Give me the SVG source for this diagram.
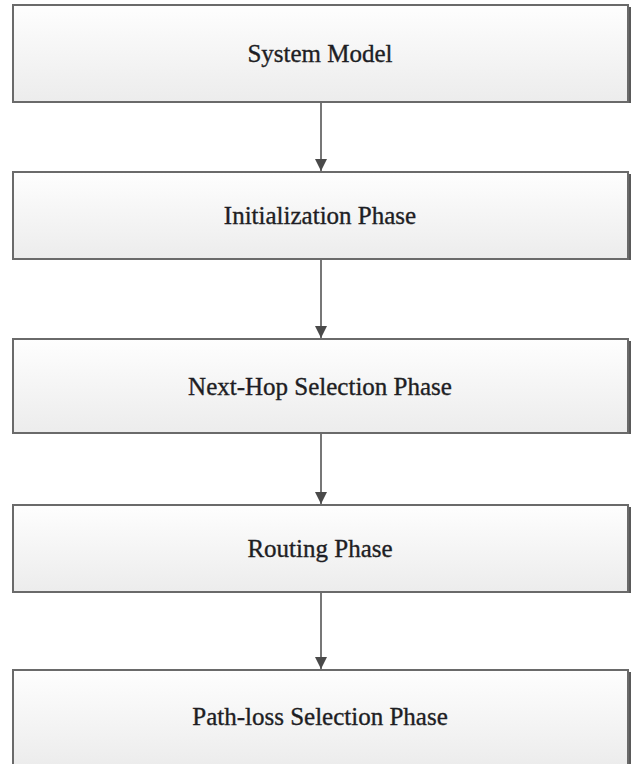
<svg xmlns="http://www.w3.org/2000/svg" width="632" height="764" viewBox="0 0 632 764">
  <defs>
    <linearGradient id="boxFill" x1="0" y1="0" x2="0" y2="1">
      <stop offset="0" stop-color="#fefefe"/>
      <stop offset="1" stop-color="#ececec"/>
    </linearGradient>
    <marker id="arrow" viewBox="0 0 12 12" refX="12" refY="6" markerWidth="12" markerHeight="12" markerUnits="userSpaceOnUse" orient="auto">
      <path d="M0,0 L12,6 L0,12 Z" fill="#4a4a4a"/>
    </marker>
  </defs>
  <style>
    .box { fill: url(#boxFill); stroke: #6a6a6a; stroke-width: 2; }
    .shadow { fill: #5a5a5a; }
    .label { font-family: "Liberation Serif", "Times New Roman", serif; font-size: 25px; fill: #1e1e24; stroke: #1e1e24; stroke-width: 0.35; text-anchor: middle; }
    .conn { stroke: #555555; stroke-width: 1.6; fill: none; }
  </style>
  <rect width="632" height="764" fill="#ffffff"/>

  <g id="connectors">
    <line class="conn" x1="321" y1="103" x2="321" y2="171" marker-end="url(#arrow)"/>
    <line class="conn" x1="321" y1="260" x2="321" y2="338" marker-end="url(#arrow)"/>
    <line class="conn" x1="321" y1="434" x2="321" y2="504" marker-end="url(#arrow)"/>
    <line class="conn" x1="321" y1="593" x2="321" y2="669" marker-end="url(#arrow)"/>
  </g>

  <g id="node-system-model">
    <rect class="shadow" x="15" y="7" width="616" height="96"/>
    <rect class="box" x="13" y="5" width="615" height="97"/>
    <text class="label" x="320" y="62">System Model</text>
  </g>

  <g id="node-initialization">
    <rect class="shadow" x="15" y="174" width="616" height="86"/>
    <rect class="box" x="13" y="172" width="615" height="87"/>
    <text class="label" x="320" y="224">Initialization Phase</text>
  </g>

  <g id="node-next-hop">
    <rect class="shadow" x="15" y="341" width="616" height="93"/>
    <rect class="box" x="13" y="339" width="615" height="94"/>
    <text class="label" x="320" y="395">Next-Hop Selection Phase</text>
  </g>

  <g id="node-routing">
    <rect class="shadow" x="15" y="507" width="616" height="86"/>
    <rect class="box" x="13" y="505" width="615" height="87"/>
    <text class="label" x="320" y="557">Routing Phase</text>
  </g>

  <g id="node-path-loss">
    <rect class="shadow" x="15" y="672" width="616" height="96"/>
    <rect class="box" x="13" y="670" width="615" height="96"/>
    <text class="label" x="320" y="725">Path-loss Selection Phase</text>
  </g>
</svg>
